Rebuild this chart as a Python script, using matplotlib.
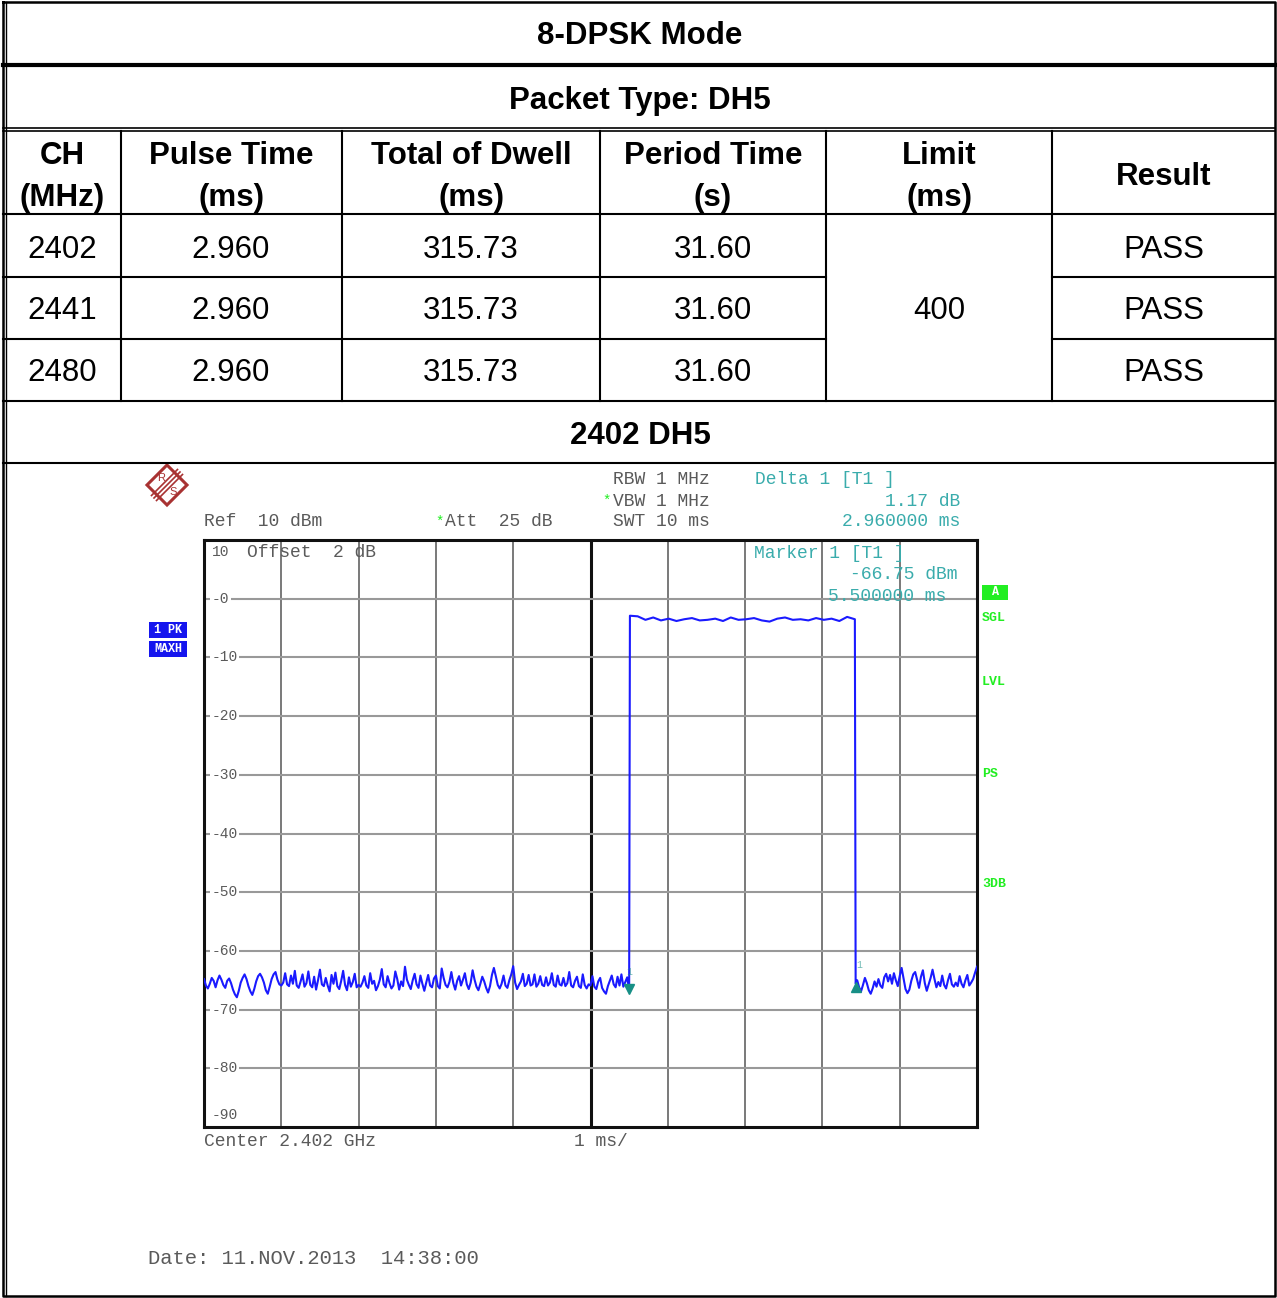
import matplotlib.pyplot as plt
import numpy as np
from matplotlib.patches import Polygon, Rectangle

# ---- table data ----
mode_title = '8-DPSK Mode'
packet_title = 'Packet Type: DH5'
header_top = ['CH', 'Pulse Time', 'Total of Dwell', 'Period Time', 'Limit', 'Result']
header_bot = ['(MHz)', '(ms)', '(ms)', '(s)', '(ms)', '']
channels = ['2402', '2441', '2480']
pulse_time = ['2.960', '2.960', '2.960']
total_dwell = ['315.73', '315.73', '315.73']
period_time = ['31.60', '31.60', '31.60']
limit_ms = '400'
results = ['PASS', 'PASS', 'PASS']
plot_title = '2402 DH5'

# ---- spectrum analyzer trace (dBm), zero span, 10 ms sweep ----
noise_left = [
    -64.8, -65.9, -66.4, -65.6, -64.6, -65.1, -66.2, -65.0, -64.2, -64.9,
    -65.8, -66.3, -65.1, -64.7, -65.5, -66.6, -67.4, -67.9, -66.8, -65.4,
    -64.6, -64.0, -64.8, -66.0, -66.9, -67.5, -66.5, -65.2, -64.3, -63.9,
    -64.5, -65.4, -66.7, -67.3, -66.1, -64.8, -64.0, -63.6, -64.9, -65.7,
    -65.9, -65.4, -63.8, -65.7, -66.0, -64.2, -65.6, -63.4, -65.9, -66.3,
    -65.2, -64.0, -66.1, -65.5, -63.5, -65.8, -66.2, -64.4, -66.6, -65.0,
    -63.2, -65.7, -66.0, -64.6, -65.9, -66.9, -64.1, -65.6, -63.7, -66.0,
    -66.5, -65.1, -63.4, -65.8, -66.7, -64.5, -66.1, -65.3, -63.9, -66.2,
    -65.8, -66.1, -65.4, -64.3, -65.9, -66.3, -63.8, -65.6, -65.1, -66.7,
    -66.0, -64.9, -63.1, -65.7, -66.2, -64.3, -65.5, -66.4, -65.9, -63.5,
    -64.8, -66.6, -65.2, -66.0, -62.7, -64.9, -65.8, -66.5, -65.0, -63.9,
    -65.7, -66.3, -64.2, -65.6, -66.8, -65.4, -64.1, -65.9, -66.2, -64.7,
    -64.2, -66.0, -66.4, -63.0, -64.6, -65.8, -66.2, -65.3, -63.6, -65.5,
    -66.6, -65.1, -64.3, -65.9, -64.9, -63.8, -65.7, -66.5, -65.4, -63.3,
    -64.9, -66.1, -66.7, -65.6, -64.4, -65.2, -66.3, -67.1, -66.0, -64.1,
    -62.9, -64.3, -65.8, -66.4, -65.6, -64.2, -65.9, -66.3, -65.0, -64.0,
    -62.6, -65.4, -66.5, -65.8, -65.2, -63.9, -66.0, -65.6, -64.1, -65.9,
    -65.7, -64.0, -66.1, -65.6, -64.3, -65.8, -66.0, -64.5, -65.9, -65.4,
    -63.8, -65.8, -66.1, -64.2, -65.7, -65.9, -64.6, -66.0, -65.5, -63.6,
    -65.9, -66.2, -65.1, -64.4, -66.0, -66.3, -64.0, -65.8, -66.4, -65.7,
    -65.9, -64.3, -66.1, -66.5, -65.2, -64.6, -66.3, -66.9, -67.3, -66.0,
    -65.1, -64.2, -65.7, -66.2, -64.4, -65.9, -64.0, -66.1, -65.3, -64.5,
    -66.75]
pulse_top = [-2.9, -3.0, -3.6, -3.2, -3.7, -3.4, -3.8, -3.5, -3.3, -3.7,
             -3.6, -3.4, -3.8, -3.2, -3.6, -3.5, -3.3, -3.7, -3.9, -3.4,
             -3.2, -3.6, -3.5, -3.7, -3.3, -3.6, -3.4, -3.8, -3.1, -3.5]
fall_level = -65.58
noise_right = [
    -65.0, -66.2, -66.9, -65.8, -64.6, -65.5, -66.7, -67.3, -66.4, -65.2,
    -66.1, -64.8, -65.9, -66.3, -64.5, -63.9, -65.2, -64.1, -65.6, -63.8,
    -65.0, -66.0, -64.3, -62.9, -64.7, -66.5, -67.2, -66.6, -65.1, -64.0,
    -63.6, -64.9, -66.3, -64.4, -63.3, -65.5, -66.8, -65.7, -64.6, -63.2,
    -64.8, -66.2, -65.3, -66.0, -64.2, -65.8, -66.4, -65.0, -63.9, -65.7,
    -66.1, -65.4, -66.0, -64.3, -65.6, -66.2, -65.0, -64.1, -65.9, -65.4,
    -64.8, -63.7, -62.7]
marker1_t, marker1_db = 5.5, -66.75
delta_t, delta_db = 8.43, -65.58
y_ticks = [0, -10, -20, -30, -40, -50, -60, -70, -80]

t_left = np.arange(len(noise_left)) * 0.025
t_top = np.linspace(5.51, 8.42, len(pulse_top))
t_right = 8.45 + np.arange(len(noise_right)) * 0.025
t = np.concatenate([t_left, t_top, [delta_t], t_right])
level = np.concatenate([noise_left, pulse_top, [fall_level], noise_right])

W, H = 1277, 1298
fig = plt.figure(figsize=(W / 100, H / 100), dpi=100)
ax0 = fig.add_axes([0, 0, 1, 1])
ax0.set_xlim(0, W)
ax0.set_ylim(H, 0)
ax0.axis('off')

sans = 'Liberation Sans'
mono = 'Liberation Mono'
fs = 22.5

# ---- table lines ----
L, R, T, B = 3, 1275, 2, 1296
ax0.plot([L, R, R, L, L], [T, T, B, B, T], color='black', lw=1.8)
ax0.plot([6, 6], [T, B], color='black', lw=1.0)
ax0.plot([L, R], [65, 65], color='black', lw=3)
ax0.plot([L, R], [128, 128], color='black', lw=1.2)
ax0.plot([L, R], [131, 131], color='black', lw=1.2)
for y in [214, 401, 463]:
    ax0.plot([L, R], [y, y], color='black', lw=1.5)
for y in [277, 339]:
    ax0.plot([L, 826], [y, y], color='black', lw=1.5)
    ax0.plot([1052, R], [y, y], color='black', lw=1.5)
for x in [121, 342, 600, 826, 1052]:
    ax0.plot([x, x], [131, 401], color='black', lw=1.5)

col_c = [62, 231, 471, 713, 939, 1164]
ax0.text(640, 36, mode_title, ha='center', va='center', fontsize=fs, weight='bold', family=sans)
ax0.text(640, 101, packet_title, ha='center', va='center', fontsize=fs, weight='bold', family=sans)
for i in range(6):
    if header_bot[i]:
        ax0.text(col_c[i], 156, header_top[i], ha='center', va='center', fontsize=fs, weight='bold', family=sans)
        ax0.text(col_c[i], 198, header_bot[i], ha='center', va='center', fontsize=fs, weight='bold', family=sans)
    else:
        ax0.text(col_c[i], 177, header_top[i], ha='center', va='center', fontsize=fs, weight='bold', family=sans)
row_y = [250, 311, 373]
for r in range(3):
    for i, val in enumerate([channels[r], pulse_time[r], total_dwell[r], period_time[r]]):
        ax0.text(col_c[i], row_y[r], val, ha='center', va='center', fontsize=fs, family=sans)
    ax0.text(col_c[5], row_y[r], results[r], ha='center', va='center', fontsize=fs, family=sans)
ax0.text(col_c[4], 311, limit_ms, ha='center', va='center', fontsize=fs, family=sans)
ax0.text(640, 436, plot_title, ha='center', va='center', fontsize=fs, weight='bold', family=sans)

# ---- R&S logo ----
red = '#a83232'
ax0.add_patch(Polygon([(167, 465), (187, 485), (167, 505), (147, 485)], closed=True,
                      fill=False, edgecolor=red, lw=2.2))
for d in [-2.5, 0, 2.5]:
    ax0.plot([180 + d, 154 + d], [472 + d, 498 + d], color=red, lw=1.2)
ax0.text(161, 478, 'R', ha='center', va='center', fontsize=8, color=red, family=sans)
ax0.text(173, 492, 'S', ha='center', va='center', fontsize=8, color=red, family=sans)

# ---- instrument header texts ----
gray = '#5a5a5a'
cyan = '#3aacac'
green = '#22ee22'
mfs = 13
ax0.text(204, 522, 'Ref  10 dBm', fontsize=mfs, color=gray, family=mono, va='center')
ax0.text(435, 522, '*', fontsize=10, color=green, family=mono, va='center')
ax0.text(445, 522, 'Att  25 dB', fontsize=mfs, color=gray, family=mono, va='center')
ax0.text(613, 480, 'RBW 1 MHz', fontsize=mfs, color=gray, family=mono, va='center')
ax0.text(602, 501, '*', fontsize=10, color=green, family=mono, va='center')
ax0.text(613, 501, 'VBW 1 MHz', fontsize=mfs, color=gray, family=mono, va='center')
ax0.text(613, 522, 'SWT 10 ms', fontsize=mfs, color=gray, family=mono, va='center')
ax0.text(755, 480, 'Delta 1 [T1 ]', fontsize=mfs, color=cyan, family=mono, va='center')
ax0.text(960, 501, '1.17 dB', fontsize=mfs, color=cyan, family=mono, va='center', ha='right')
ax0.text(960, 522, '2.960000 ms', fontsize=mfs, color=cyan, family=mono, va='center', ha='right')
ax0.text(204, 1142, 'Center 2.402 GHz', fontsize=mfs, color=gray, family=mono, va='center')
ax0.text(574, 1142, '1 ms/', fontsize=mfs, color=gray, family=mono, va='center')
ax0.text(148, 1259, 'Date: 11.NOV.2013  14:38:00', fontsize=14.8, color=gray, family=mono, va='center')

# side annotations
ax0.add_patch(Rectangle((149, 622), 38, 16, facecolor='#1515ee', edgecolor='none'))
ax0.add_patch(Rectangle((149, 641), 38, 16, facecolor='#1515ee', edgecolor='none'))
ax0.text(168, 630, '1 PK', fontsize=8.5, color='white', family=mono, weight='bold', ha='center', va='center')
ax0.text(168, 649, 'MAXH', fontsize=8.5, color='white', family=mono, weight='bold', ha='center', va='center')
ax0.add_patch(Rectangle((982, 585), 26, 15, facecolor=green, edgecolor='none'))
ax0.text(995, 592, 'A', fontsize=8.5, color='white', family=mono, weight='bold', ha='center', va='center')
for lab, y in [('SGL', 618), ('LVL', 682), ('PS', 774), ('3DB', 884)]:
    ax0.text(982, y, lab, fontsize=9.5, color=green, family=mono, weight='bold', va='center')

# ---- spectrum plot ----
ax = fig.add_axes([204 / W, 1 - 1127 / H, 773 / W, 587 / H])
ax.set_xlim(0, 10)
ax.set_ylim(-90, 10)
ax.set_xticks([])
ax.set_yticks([])
for s in ax.spines.values():
    s.set_linewidth(2.2)
    s.set_color('#111111')
for v in range(1, 10):
    ax.axvline(v, color='#111111' if v == 5 else '#555555', lw=2.2 if v == 5 else 1.1, zorder=1)
for yv in y_ticks:
    ax.axhline(yv, color='#999999', lw=1.5, zorder=1)
    ax.text(0.1, yv, '-' + str(yv) if yv == 0 else str(yv), fontsize=10.5, color=gray,
            family=mono, va='center', ha='left', zorder=2,
            bbox=dict(boxstyle='square,pad=0.1', facecolor='white', edgecolor='none'))
ax.text(0.1, 7.9, '10', fontsize=10.5, color=gray, family=mono, va='center')
ax.text(0.55, 7.9, 'Offset  2 dB', fontsize=mfs, color=gray, family=mono, va='center')
ax.text(0.1, -88.0, '-90', fontsize=10.5, color=gray, family=mono, va='center')
ax.text(7.12, 7.7, 'Marker 1 [T1 ]', fontsize=mfs, color=cyan, family=mono, va='center')
ax.text(9.75, 4.1, '-66.75 dBm', fontsize=mfs, color=cyan, family=mono, va='center', ha='right')
ax.text(9.6, 0.3, '5.500000 ms', fontsize=mfs, color=cyan, family=mono, va='center', ha='right')

ax.plot(t, level, color='#1a1aff', lw=1.5, zorder=3)
mk = '#178f86'
ax.plot(marker1_t, marker1_db + 0.3, marker='v', color=mk, markersize=7, zorder=4)
ax.plot(delta_t, delta_db - 0.6, marker='^', color=mk, markersize=7, zorder=4)
ax.text(marker1_t, marker1_db + 2.3, '1', fontsize=7, color=mk, family=mono, ha='center', va='bottom', alpha=0.6)
ax.text(delta_t + 0.05, delta_db + 2.3, '1', fontsize=7, color=mk, family=mono, ha='center', va='bottom', alpha=0.6)

fig.savefig('out.png', dpi=100)
